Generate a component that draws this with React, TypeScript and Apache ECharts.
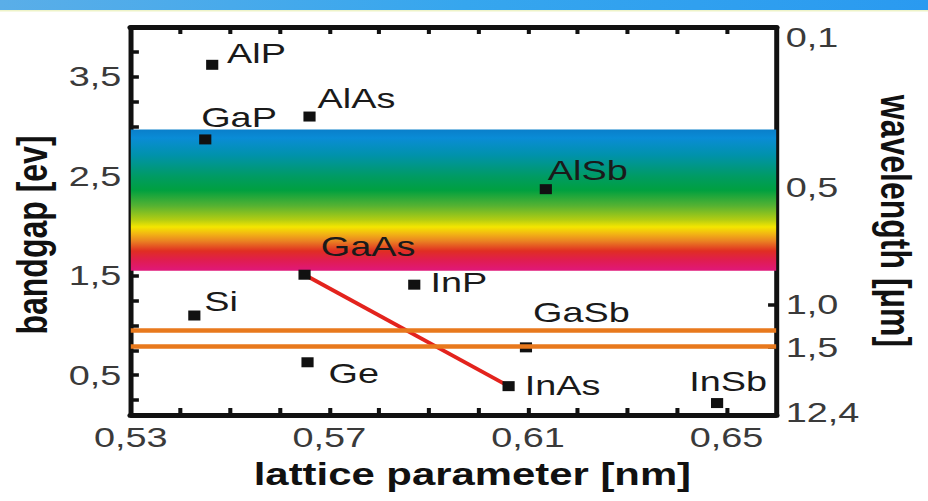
import React, { useEffect, useRef } from "react";
import * as echarts from "echarts";

// ---- data ----
const materials = ["AlP", "AlAs", "GaP", "AlSb", "GaAs", "InP", "Si", "Ge", "GaSb", "InAs", "InSb"];
const latticeNm = [0.5464, 0.566, 0.545, 0.6136, 0.565, 0.5871, 0.5428, 0.5656, 0.6096, 0.6061, 0.6481];
const bandgapEv = [3.62, 3.1, 2.87, 2.37, 1.51, 1.41, 1.1, 0.63, 0.78, 0.39, 0.22];
const alloyEnds = ["GaAs", "InAs"];

const visibleBandEv = [2.97, 1.55]; // top, bottom of the visible-light band
const telecomLinesEv = [0.955, 0.785];

const xTickValues = [0.54, 0.55, 0.56, 0.57, 0.58, 0.59, 0.6, 0.61, 0.62, 0.63, 0.64, 0.65];
const xLabelValues = [0.53, 0.57, 0.61, 0.65];
const yTickValues = [0.25, 0.5, 0.75, 1.0, 1.25, 1.5, 1.75, 2.0, 2.25, 2.5, 2.75, 3.0, 3.25, 3.5, 3.75];
const yLabelValues = [0.5, 1.5, 2.5, 3.5];
const wlTickEv = [2.39, 1.21, 0.785];
const wlLabelEv = [3.9, 2.39, 1.21, 0.785, 0.13];
const wlLabelText = ["0,1", "0,5", "1,0", "1,5", "12,4"];

// label placement (style, not data): offsets from each marker
const labelDx = [11, 6, -3, 1.5, 12, 12, 7.4, 15.6, 5.2, 12, -20.7];
const labelDy = [-11, -18, -22, -19, -28, -2, -14, 11, -35, -1, -22];

const W = 687;
const H = 501;
const SX = 928 / W;
const FONT = "'Liberation Sans', Arial, Helvetica, sans-serif";

const comma = (v: number, d: number) => v.toFixed(d).replace(".", ",");

function buildOption() {
  const idxA = materials.indexOf(alloyEnds[0]);
  const idxB = materials.indexOf(alloyEnds[1]);
  const frameColor = "#111";
  const tickLabel = { fontSize: 28, color: "#3a3a3a", fontFamily: FONT };

  return {
    animation: false,
    backgroundColor: "#fff",
    textStyle: { fontFamily: FONT },
    grid: { left: 94, right: 105.5, top: 27, bottom: 86, containLabel: false },
    graphic: [
      {
        type: "rect",
        x: 0,
        y: 0,
        silent: true,
        shape: { width: W, height: 10 },
        style: {
          fill: {
            type: "linear",
            x: 0,
            y: 0,
            x2: 1,
            y2: 0,
            colorStops: [
              { offset: 0, color: "#5aaee8" },
              { offset: 0.5, color: "#36a6ee" },
              { offset: 1, color: "#2a9af0" },
            ],
          },
        },
      },
      {
        type: "rect",
        x: 0,
        y: 10,
        silent: true,
        shape: { width: W, height: 1.5 },
        style: { fill: "#eef3c8" },
      },
    ],
    xAxis: [
      {
        type: "value",
        position: "bottom",
        min: 0.53,
        max: 0.66,
        axisLine: { show: true, onZero: false, lineStyle: { color: frameColor, width: 5 } },
        axisTick: { show: true, inside: true, length: 7, customValues: xTickValues, lineStyle: { color: frameColor, width: 3 } },
        axisLabel: { ...tickLabel, margin: 8, customValues: xLabelValues, formatter: (v: number) => comma(v, 2) },
        splitLine: { show: false },
        name: "lattice parameter [nm]",
        nameLocation: "middle",
        nameGap: 44,
        nameTextStyle: { fontSize: 31, fontWeight: "bold", color: "#111", fontFamily: FONT, padding: [0, 0, 0, 28] },
      },
      {
        type: "value",
        position: "top",
        min: 0.53,
        max: 0.66,
        axisLine: { show: true, onZero: false, lineStyle: { color: frameColor, width: 5 } },
        axisTick: { show: true, inside: true, length: 7, customValues: xTickValues, lineStyle: { color: frameColor, width: 3 } },
        axisLabel: { show: false },
        splitLine: { show: false },
      },
    ],
    yAxis: [
      {
        type: "value",
        position: "left",
        min: 0.1,
        max: 4.0,
        axisLine: { show: true, onZero: false, lineStyle: { color: frameColor, width: 3.7 } },
        axisTick: { show: true, inside: true, length: 6, customValues: yTickValues, lineStyle: { color: frameColor, width: 3.5 } },
        axisLabel: { ...tickLabel, margin: 7, customValues: yLabelValues, formatter: (v: number) => comma(v, 1) },
        splitLine: { show: false },
        name: "bandgap [ev]",
        nameLocation: "middle",
        nameGap: 50,
        nameTextStyle: { fontSize: 32, fontWeight: "bold", color: "#111", fontFamily: FONT, padding: [0, 28, 0, 0] },
      },
      {
        type: "value",
        position: "right",
        min: 0.1,
        max: 4.0,
        axisLine: { show: true, onZero: false, lineStyle: { color: frameColor, width: 3.7 } },
        axisTick: { show: true, inside: true, length: 6, customValues: wlTickEv, lineStyle: { color: frameColor, width: 3.5 } },
        axisLabel: {
          ...tickLabel,
          margin: 7,
          customValues: wlLabelEv,
          formatter: (v: number) => {
            const i = wlLabelEv.findIndex((e) => Math.abs(e - v) < 1e-6);
            return i >= 0 ? wlLabelText[i] : "";
          },
        },
        splitLine: { show: false },
        name: "wavelength [μm]",
        nameLocation: "middle",
        nameRotate: -90,
        nameGap: 60,
        nameTextStyle: { fontSize: 32, fontWeight: "bold", color: "#111", fontFamily: FONT },
      },
    ],
    series: [
      {
        type: "line",
        data: [],
        z: 1,
        silent: true,
        markArea: {
          silent: true,
          label: { show: false },
          itemStyle: {
            opacity: 1,
            color: {
              type: "linear",
              x: 0,
              y: 0,
              x2: 0,
              y2: 1,
              colorStops: [
                { offset: 0, color: "#0a7fca" },
                { offset: 0.06, color: "#0a8cd6" },
                { offset: 0.18, color: "#0092ac" },
                { offset: 0.33, color: "#009b64" },
                { offset: 0.43, color: "#00a040" },
                { offset: 0.54, color: "#55b232" },
                { offset: 0.64, color: "#b4cd12" },
                { offset: 0.69, color: "#f4e600" },
                { offset: 0.74, color: "#f2b414" },
                { offset: 0.79, color: "#ea8222" },
                { offset: 0.86, color: "#e02e22" },
                { offset: 0.93, color: "#e01c52" },
                { offset: 1, color: "#e0187a" },
              ],
            },
          },
          data: [[{ yAxis: visibleBandEv[0] }, { yAxis: visibleBandEv[1] }]],
        },
      },
      {
        type: "line",
        data: [],
        z: 2,
        silent: true,
        markLine: {
          silent: true,
          symbol: ["none", "none"],
          label: { show: false },
          lineStyle: { color: "#e8791d", width: 4.5, type: "solid" },
          data: telecomLinesEv.map((v) => ({ yAxis: v })),
        },
      },
      {
        type: "line",
        z: 3,
        silent: true,
        symbol: "none",
        showSymbol: false,
        lineStyle: { color: "#e3231d", width: 3.5 },
        data: [
          [latticeNm[idxA], bandgapEv[idxA]],
          [latticeNm[idxB], bandgapEv[idxB]],
        ],
      },
      {
        type: "scatter",
        z: 4,
        symbol: "rect",
        symbolSize: [9, 10],
        itemStyle: { color: "#111", opacity: 1 },
        data: materials.map((m, i) => ({
          name: m,
          value: [latticeNm[i], bandgapEv[i]],
          label: {
            show: true,
            position: "right",
            distance: 0,
            offset: [labelDx[i] - 4.5, labelDy[i]],
            formatter: m,
            fontSize: 28,
            color: "#1a1a1a",
            fontFamily: FONT,
          },
        })),
      },
    ],
  };
}

export default function App() {
  const ref = useRef<HTMLDivElement>(null);
  useEffect(() => {
    if (!ref.current) return;
    const chart = echarts.init(ref.current, null, { renderer: "svg" });
    chart.setOption(buildOption() as any);
    return () => chart.dispose();
  }, []);
  return (
    <div
      style={{
        position: "fixed",
        left: 0,
        top: 0,
        width: W,
        height: H,
        transform: `scaleX(${SX})`,
        transformOrigin: "0 0",
        background: "#fff",
      }}
    >
      <div ref={ref} style={{ width: W, height: H }} />
    </div>
  );
}
